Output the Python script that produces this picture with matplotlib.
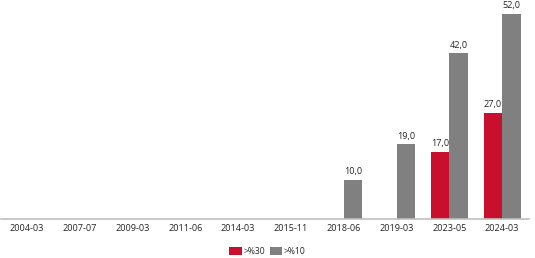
import matplotlib
matplotlib.use("Agg")
import matplotlib.pyplot as plt
import numpy as np

plt.rcParams['font.family'] = ['Open Sans', 'DejaVu Sans']

categories = ['2004-03', '2007-07', '2009-03', '2011-06', '2014-03',
              '2015-11', '2018-06', '2019-03', '2023-05', '2024-03']
above30 = [None, None, None, None, None, None, None, None, 17.0, 27.0]
above10 = [None, None, None, None, None, None, 10.0, 19.0, 42.0, 52.0]
series_names = ['>%30', '>%10']

RED = '#C8102E'
GREY = '#808080'
TXT = '#262626'

fig = plt.figure(figsize=(5.35, 2.58), dpi=100)
ax = fig.add_axes([0.001, 0.151, 0.987, 0.845])

x = np.arange(len(categories))
w = 0.35

def to_arr(vals):
    return np.array([np.nan if v is None else v for v in vals], dtype=float)

v30 = to_arr(above30)
v10 = to_arr(above10)

b1 = ax.bar(x - w / 2, v30, w, color=RED, label=series_names[0])
b2 = ax.bar(x + w / 2, v10, w, color=GREY, label=series_names[1])

for bars, vals in ((b1, v30), (b2, v10)):
    for rect, v in zip(bars, vals):
        if np.isnan(v):
            continue
        ax.text(rect.get_x() + rect.get_width() / 2, v + 0.9,
                f'{v:.1f}'.replace('.', ','), ha='center', va='bottom',
                fontsize=6.6, color=TXT)

ax.set_xlim(-0.5, len(categories) - 0.5)
ax.set_ylim(0, 55.3)
ax.set_xticks(x)
ax.set_xticklabels(categories, fontsize=6.6, color=TXT)
ax.tick_params(axis='x', length=0, pad=3.5)
ax.set_yticks([])
for s in ['top', 'right', 'left']:
    ax.spines[s].set_visible(False)
ax.spines['bottom'].set_color('#BFBFBF')
ax.spines['bottom'].set_linewidth(1.2)

fig.legend(handles=[b1, b2], loc='center', bbox_to_anchor=(0.5, 0.027),
           ncol=2, frameon=False, fontsize=6.2, handlelength=1.4,
           handleheight=1.1, handletextpad=0.25, columnspacing=0.5,
           labelcolor=TXT)

fig.savefig('out.png', dpi=100)
